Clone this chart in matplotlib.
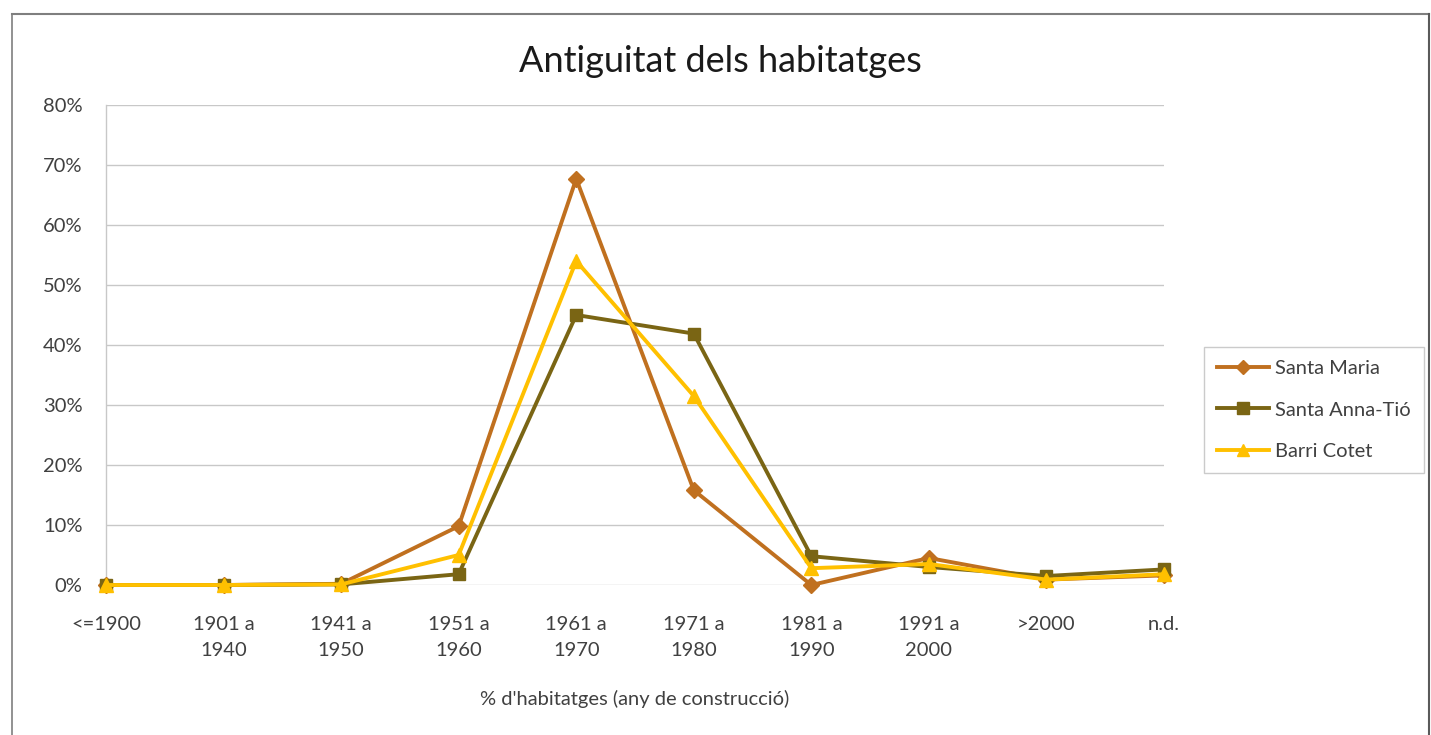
import matplotlib
matplotlib.use("Agg")
import matplotlib.pyplot as plt
from matplotlib.ticker import FuncFormatter, MultipleLocator
from matplotlib.lines import Line2D

# ── Data (percent of dwellings by construction period) ────────────────────────
categories = ["<=1900", "1901 a\n1940", "1941 a\n1950", "1951 a\n1960", "1961 a\n1970",
              "1971 a\n1980", "1981 a\n1990", "1991 a\n2000", ">2000", "n.d."]
santa_maria = [0.0, 0.0, 0.2, 9.8, 67.7, 15.8, 0.0, 4.5, 0.9, 1.6]
santa_anna  = [0.0, 0.0, 0.1, 1.8, 45.0, 41.9, 4.8, 3.0, 1.5, 2.6]
barri_cotet = [0.0, 0.0, 0.1, 5.0, 54.0, 31.5, 2.8, 3.5, 0.9, 1.8]

series_names = ["Santa Maria", "Santa Anna-Tió", "Barri Cotet"]
colors  = ["#C0701F", "#7A6514", "#FFC000"]
markers = ["D", "s", "^"]
msizes  = [8, 9, 10]

plt.rcParams["font.family"] = ["Lato", "DejaVu Sans"]
TXT = "#404040"
FS = 14.5

fig = plt.figure(figsize=(14.31, 7.35), dpi=100, facecolor="white")
ax = fig.add_axes([106 / 1431, 1 - 585 / 735, (1164 - 106) / 1431, (585 - 105) / 735])

x = list(range(len(categories)))
for vals, name, c, m, ms in zip([santa_maria, santa_anna, barri_cotet],
                                series_names, colors, markers, msizes):
    ax.plot(x, vals, color=c, lw=2.8, marker=m, ms=ms, label=name,
            markerfacecolor=c, markeredgecolor=c, clip_on=False, zorder=3)

ax.set_xlim(0, len(categories) - 1)
ax.set_ylim(0, 80)
ax.yaxis.set_major_locator(MultipleLocator(10))
ax.yaxis.set_major_formatter(FuncFormatter(lambda v, _: f"{v:.0f}%"))
ax.set_xticks(x)
ax.set_xticklabels(categories, linespacing=1.7)
ax.tick_params(axis="both", length=0, labelsize=FS, colors=TXT)
ax.tick_params(axis="x", pad=22)
ax.tick_params(axis="y", pad=17)

ax.grid(axis="y", color="#C8C8C8", lw=1.0)
ax.set_axisbelow(True)
for side in ["top", "right", "bottom"]:
    ax.spines[side].set_visible(False)
ax.spines["left"].set_color("#C8C8C8")
ax.spines["left"].set_linewidth(1.0)

ax.set_xlabel("% d'habitatges (any de construcció)", fontsize=FS, color=TXT, labelpad=22)

fig.text(0.5035, 1 - 61 / 735, "Antiguitat dels habitatges", fontsize=26,
         color="#1a1a1a", ha="center", va="center")

handles = [Line2D([0], [0], color=c, lw=2.8, marker=m, ms=ms - 1, markerfacecolor=c,
                  markeredgecolor=c) for c, m, ms in zip(colors, markers, msizes)]
leg = fig.legend(handles, series_names, loc="center left",
                 bbox_to_anchor=(1204 / 1431, 1 - 410 / 735), borderaxespad=0,
                 fontsize=FS, frameon=True, fancybox=False, edgecolor="#BFBFBF",
                 handlelength=2.6, labelspacing=1.2, borderpad=0.65, handletextpad=0.3)
for t in leg.get_texts():
    t.set_color(TXT)
leg.get_frame().set_linewidth(1.0)

# outer chart frame (left, top, right edges)
frame_col = "#7F7F7F"
fig.add_artist(Line2D([12 / 1431, 12 / 1431], [0, 1 - 14 / 735], color=frame_col, lw=1.2))
fig.add_artist(Line2D([12 / 1431, 1429 / 1431], [1 - 14 / 735, 1 - 14 / 735], color=frame_col, lw=1.5))
fig.add_artist(Line2D([1429 / 1431, 1429 / 1431], [0, 1 - 14 / 735], color="#5a5a5a", lw=1.5))

fig.savefig("out.png", dpi=100, facecolor="white")
